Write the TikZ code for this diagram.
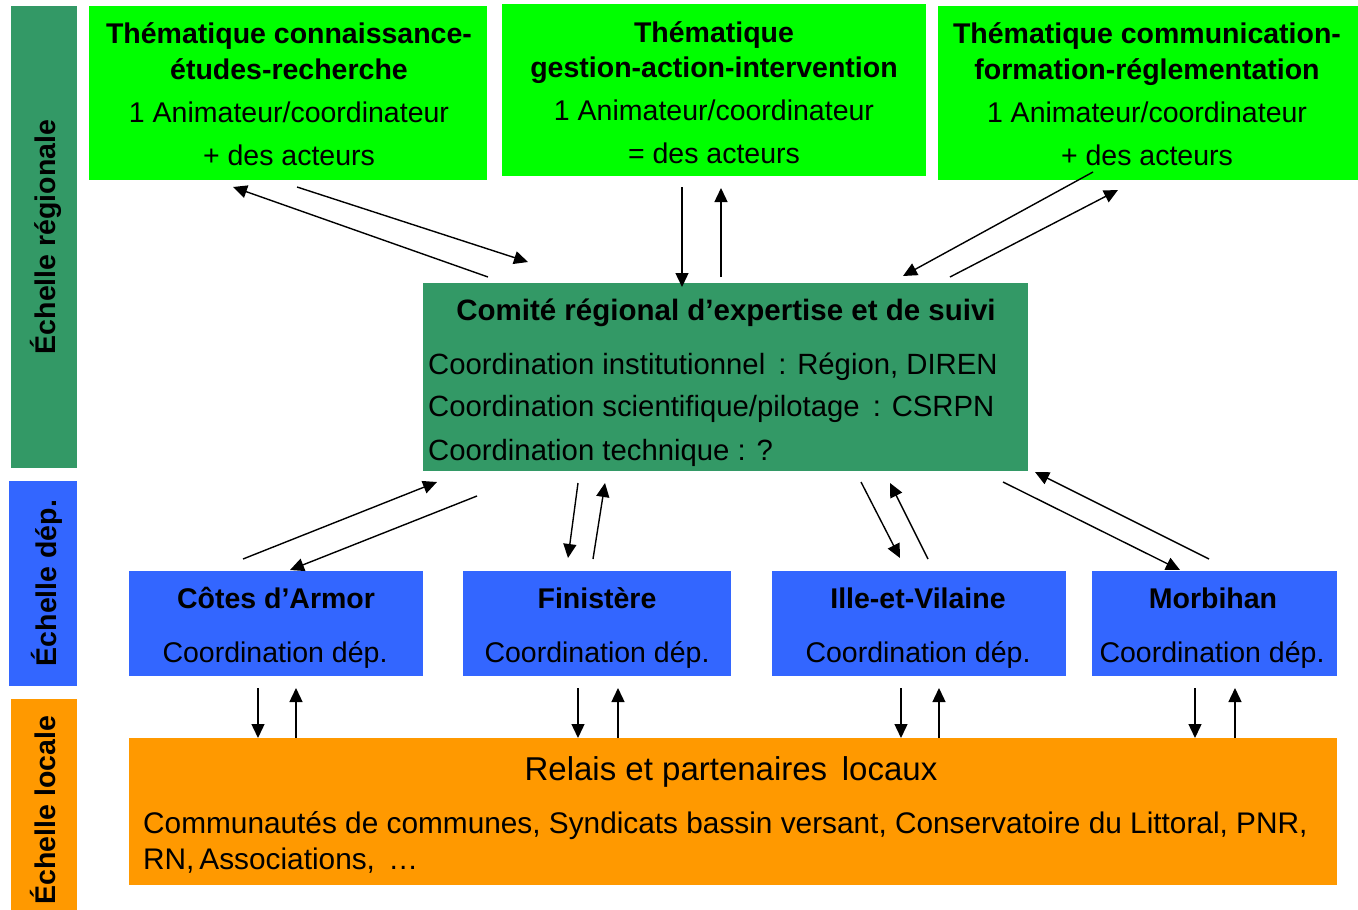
\documentclass[tikz,border=0pt]{standalone}
\usepackage{fontspec}
\setmainfont{Liberation Sans}
\usetikzlibrary{calc,arrows.meta}
\definecolor{brgreen}{HTML}{00FF00}
\definecolor{dkgreen}{HTML}{339966}
\definecolor{dblue}{HTML}{3366FF}
\definecolor{orng}{HTML}{FF9900}
\begin{document}
\begin{tikzpicture}[x=1pt,y=-1pt,
  box/.style={anchor=north west,inner sep=0pt,outer sep=0pt,draw=none},
  txt/.style={anchor=base,inner sep=0pt,font=\fontsize{28.5}{34}\selectfont},
  btxt/.style={anchor=base,inner sep=0pt,font=\fontsize{28.5}{34}\selectfont\bfseries},
  ltxt/.style={anchor=base west,inner sep=0pt,font=\fontsize{29.3}{34}\selectfont},
  arr/.style={line width=1.4pt,-{Triangle[length=14pt,width=13pt]}}]
\useasboundingbox (0,0) rectangle (1358,910);

% scale bands
\node[box,fill=dkgreen,minimum width=66pt,minimum height=462pt] (bR) at (11,6) {};
\node[box,fill=dblue,minimum width=68pt,minimum height=205pt] (bD) at (9,481) {};
\node[box,fill=orng,minimum width=66pt,minimum height=211pt] (bL) at (11,699) {};
\node[btxt,rotate=90] (lR) at (55,237) {Échelle régionale};
\node[btxt,rotate=90] (lD) at (56,583) {Échelle dép.};
\node[btxt,rotate=90] (lL) at (55,810) {Échelle locale};

% top thematic boxes
\node[box,fill=brgreen,minimum width=398pt,minimum height=174pt] (t1) at (89,6) {};
\node[box,fill=brgreen,minimum width=424pt,minimum height=172pt] (t2) at (502,4) {};
\node[box,fill=brgreen,minimum width=420pt,minimum height=174pt] (t3) at (938,6) {};

\node[btxt] (t1a) at (289,43) {Thématique connaissance-};
\node[btxt] (t1b) at (289,79) {études-recherche};
\node[txt]  (t1c) at (289,122) {1 Animateur/coordinateur};
\node[txt]  (t1d) at (289,165) {+ des acteurs};

\node[btxt] (t2a) at (714,42) {Thématique};
\node[btxt] (t2b) at (714,77) {gestion-action-intervention};
\node[txt]  (t2c) at (714,120) {1 Animateur/coordinateur};
\node[txt]  (t2d) at (714,163) {= des acteurs};

\node[btxt] (t3a) at (1147,43) {Thématique communication-};
\node[btxt] (t3b) at (1147,79) {formation-réglementation};
\node[txt]  (t3c) at (1147,122) {1 Animateur/coordinateur};
\node[txt]  (t3d) at (1147,165) {+ des acteurs};

% regional committee
\node[box,fill=dkgreen,minimum width=605pt,minimum height=188pt] (c) at (423,283) {};
\node[anchor=base,inner sep=0pt,font=\fontsize{29.5}{34}\selectfont\bfseries] (ca) at (726,320) {Comité régional d’expertise et de suivi};
\node[ltxt] (cb) at (428,374) {Coordination institutionnel \,: Région, DIREN};
\node[ltxt] (cc) at (428,416) {Coordination scientifique/pilotage \,: CSRPN};
\node[ltxt] (cd) at (428,460) {Coordination technique : ?};

% departments
\node[box,fill=dblue,minimum width=294pt,minimum height=105pt] (d1) at (129,571) {};
\node[box,fill=dblue,minimum width=268pt,minimum height=105pt] (d2) at (463,571) {};
\node[box,fill=dblue,minimum width=294pt,minimum height=105pt] (d3) at (772,571) {};
\node[box,fill=dblue,minimum width=245pt,minimum height=105pt] (d4) at (1092,571) {};
\node[btxt] (d1a) at (276,608) {Côtes d’Armor};
\node[txt]  (d1b) at (275,662) {Coordination dép.};
\node[btxt] (d2a) at (597,608) {Finistère};
\node[txt]  (d2b) at (597,662) {Coordination dép.};
\node[btxt] (d3a) at (918,608) {Ille-et-Vilaine};
\node[txt]  (d3b) at (918,662) {Coordination dép.};
\node[btxt] (d4a) at (1213,608) {Morbihan};
\node[txt]  (d4b) at (1212,662) {Coordination dép.};

% local partners
\node[box,fill=orng,minimum width=1208pt,minimum height=147pt] (o) at (129,738) {};
\node[anchor=base,inner sep=0pt,font=\fontsize{33}{38}\selectfont] (oa) at (731,780) {Relais et partenaires \,locaux};
\node[anchor=base west,inner sep=0pt,font=\fontsize{29.8}{36}\selectfont] (ob) at (143,833) {Communautés de communes, Syndicats bassin versant, Conservatoire du Littoral, PNR,};
\node[anchor=base west,inner sep=0pt,font=\fontsize{29.8}{36}\selectfont] (oc) at (143,869) {RN,\,Associations, \,…};

% arrows thematic <-> committee
\draw[arr] ($(c.north west)+(65,-6)$) -- ($(t1.south west)+(144,7)$);
\draw[arr] ($(t1.south west)+(208,7)$) -- ($(c.north west)+(105,-21)$);
\draw[arr] ($(t2.south west)+(180,11)$) -- ($(c.north west)+(259,4)$);
\draw[arr] ($(c.north west)+(298,-6)$) -- ($(t2.south west)+(219,12)$);
\draw[arr] ($(t3.south west)+(155,-8)$) -- ($(c.north west)+(480,-7)$);
\draw[arr] ($(c.north west)+(527,-6)$) -- ($(t3.south west)+(180,10)$);

% arrows committee <-> departments
\draw[arr] ($(d1.north west)+(114,-12)$) -- ($(c.south west)+(14,11)$);
\draw[arr] ($(c.south west)+(54,25)$) -- ($(d1.north west)+(161,-1)$);
\draw[arr] ($(c.south west)+(155,12)$) -- ($(d2.north west)+(105,-13)$);
\draw[arr] ($(d2.north west)+(130,-12)$) -- ($(c.south west)+(182,12)$);
\draw[arr] ($(c.south west)+(438,11)$) -- ($(d3.north west)+(128,-13)$);
\draw[arr] ($(d3.north west)+(156,-12)$) -- ($(c.south west)+(467,12)$);
\draw[arr] ($(c.south west)+(580,11)$) -- ($(d4.north west)+(88,-1)$);
\draw[arr] ($(d4.north west)+(117,-12)$) -- ($(c.south east)+(7,1)$);

% arrows departments <-> local partners
\draw[arr] ($(d1.south west)+(129,12)$) -- ($(o.north west)+(129,0)$);
\draw[arr] ($(o.north west)+(167,0)$) -- ($(d1.south west)+(167,12)$);
\draw[arr] ($(d2.south west)+(115,12)$) -- ($(o.north west)+(449,0)$);
\draw[arr] ($(o.north west)+(489,0)$) -- ($(d2.south west)+(155,12)$);
\draw[arr] ($(d3.south west)+(129,12)$) -- ($(o.north west)+(772,0)$);
\draw[arr] ($(o.north west)+(810,0)$) -- ($(d3.south west)+(167,12)$);
\draw[arr] ($(d4.south west)+(103,12)$) -- ($(o.north west)+(1066,0)$);
\draw[arr] ($(o.north west)+(1106,0)$) -- ($(d4.south west)+(143,12)$);
\end{tikzpicture}
\end{document}
